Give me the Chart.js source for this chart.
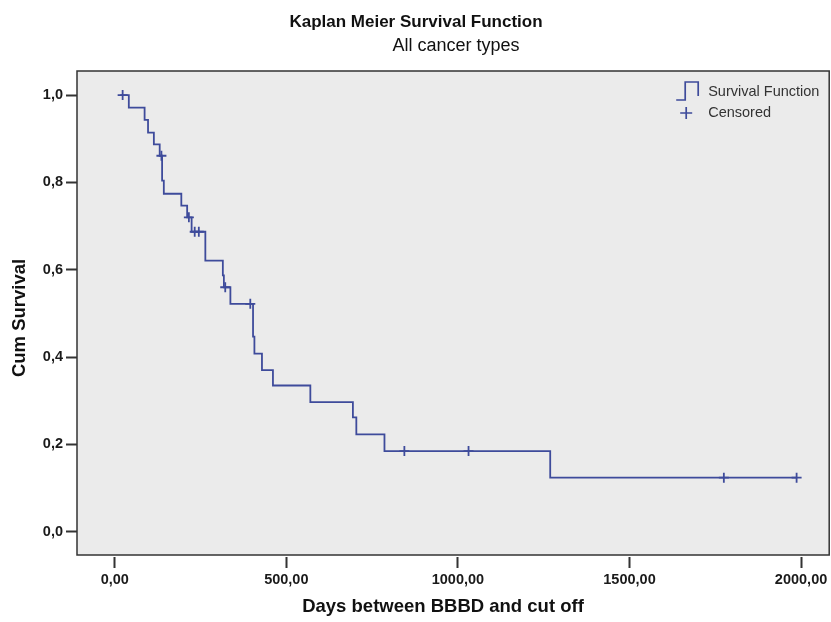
<!DOCTYPE html>
<html>
<head>
<meta charset="utf-8">
<script src="https://cdn.jsdelivr.net/npm/chart.js@4/dist/chart.umd.min.js"></script>
<style>
  body { margin: 0; background: #fff; }
  #wrap { width: 831px; height: 622px; overflow: hidden; }
</style>
</head>
<body>
<div id="wrap"><canvas id="km" width="836" height="622"></canvas></div>
<script>
// survival curve: day of each drop and the value after it
const eventDays = [16, 41, 87, 97, 114, 131, 138, 143, 194, 211, 224, 264, 315, 318, 337, 403, 407, 429, 461, 570, 694, 704, 786, 1269, 1987];
const survival  = [1.0, 0.971, 0.943, 0.914, 0.887, 0.861, 0.804, 0.774, 0.747, 0.720, 0.687, 0.621, 0.587, 0.560, 0.522, 0.447, 0.408, 0.370, 0.335, 0.297, 0.262, 0.223, 0.185, 0.124, 0.124];
// censored cases
const censorDays = [23, 136, 216, 233, 245, 322, 395, 844, 1031, 1775, 1987];
const censorSurv = [1.0, 0.861, 0.720, 0.687, 0.687, 0.560, 0.522, 0.185, 0.185, 0.124, 0.124];

const xTicks = [0, 500, 1000, 1500, 2000];
const yTicks = [0, 0.2, 0.4, 0.6, 0.8, 1.0];

const chartTitle = 'Kaplan Meier Survival Function';
const chartSubtitle = 'All cancer types';
const xTitle = 'Days between BBBD and cut off';
const yTitle = 'Cum Survival';
const legendNames = ['Survival Function', 'Censored'];

const blue = '#3e4b9b';
const font = '"Liberation Sans", Arial, sans-serif';

const curve = eventDays.map((d, i) => ({x: d, y: survival[i]}));
const censored = censorDays.map((d, i) => ({x: d, y: censorSurv[i]}));

const fmtX = v => v.toFixed(2).replace('.', ',');

// background, frame, titles, x labels and legend
const decor = {
  id: 'decor',
  beforeDraw(chart) {
    const {ctx, chartArea: a} = chart;
    ctx.save();
    ctx.fillStyle = '#ebebeb';
    ctx.fillRect(a.left, a.top, a.right - a.left, a.bottom - a.top);
    ctx.restore();
  },
  afterDraw(chart) {
    const {ctx, chartArea: a} = chart;
    const xs = chart.scales.x;
    ctx.save();
    ctx.strokeStyle = '#333';
    ctx.lineWidth = 1.5;
    ctx.strokeRect(a.left, a.top, a.right - a.left, a.bottom - a.top);

    ctx.textAlign = 'center';
    ctx.textBaseline = 'middle';
    // x tick labels at the scale's own tick positions
    ctx.fillStyle = '#1a1a1a';
    ctx.font = 'bold 14.5px ' + font;
    xTicks.forEach(v => ctx.fillText(fmtX(v), xs.getPixelForValue(v), a.bottom + 25));

    ctx.fillStyle = '#111';
    ctx.font = 'bold 17px ' + font;
    ctx.fillText(chartTitle, 416, 22);
    ctx.font = '18px ' + font;
    ctx.fillText(chartSubtitle, 456, 46);

    ctx.font = 'bold 18.5px ' + font;
    ctx.fillText(xTitle, 443, 607);
    ctx.save();
    ctx.translate(20, 318);
    ctx.rotate(-Math.PI / 2);
    ctx.fillText(yTitle, 0, 0);
    ctx.restore();

    // legend, top right of the plot
    const lx = a.right - 153, ly = a.top;
    ctx.strokeStyle = blue;
    ctx.lineWidth = 1.7;
    ctx.beginPath();
    ctx.moveTo(lx, ly + 29);
    ctx.lineTo(lx + 9, ly + 29);
    ctx.lineTo(lx + 9, ly + 11);
    ctx.lineTo(lx + 22, ly + 11);
    ctx.lineTo(lx + 22, ly + 25);
    ctx.stroke();
    ctx.beginPath();
    ctx.moveTo(lx + 4, ly + 42);
    ctx.lineTo(lx + 16, ly + 42);
    ctx.moveTo(lx + 10, ly + 36);
    ctx.lineTo(lx + 10, ly + 48);
    ctx.stroke();

    ctx.fillStyle = '#333';
    ctx.textAlign = 'left';
    ctx.font = '14.5px ' + font;
    ctx.fillText(legendNames[0], lx + 32, ly + 21);
    ctx.fillText(legendNames[1], lx + 32, ly + 42);
    ctx.restore();
  }
};

new Chart(document.getElementById('km'), {
  type: 'line',
  data: {
    datasets: [
      {
        label: legendNames[0],
        data: curve,
        stepped: 'before',
        borderColor: blue,
        borderWidth: 1.8,
        pointRadius: 0,
        fill: false
      },
      {
        label: legendNames[1],
        data: censored,
        showLine: false,
        pointStyle: 'cross',
        pointRadius: 5,
        pointBorderWidth: 1.8,
        borderColor: blue,
        backgroundColor: blue
      }
    ]
  },
  options: {
    responsive: false,
    animation: false,
    layout: { padding: { top: 71, left: 0, right: 2, bottom: 0 } },
    plugins: { legend: { display: false }, tooltip: { enabled: false } },
    scales: {
      x: {
        type: 'linear',
        min: -110,
        max: 2082,
        afterBuildTicks: s => { s.ticks = xTicks.map(v => ({value: v})); },
        afterFit: s => { s.height = 67; },
        border: { display: false },
        grid: {
          drawOnChartArea: false,
          tickLength: 13,
          tickWidth: 2,
          tickColor: '#333',
          tickBorderDash: [0, 2, 11, 100]
        },
        ticks: { display: false }
      },
      y: {
        min: -0.053,
        max: 1.055,
        afterBuildTicks: s => { s.ticks = yTicks.map(v => ({value: v})); },
        afterFit: s => { s.width = 77; s.paddingTop = 0; s.paddingBottom = 0; },
        border: { display: false },
        grid: {
          drawOnChartArea: false,
          tickLength: 11,
          tickWidth: 2,
          tickColor: '#333'
        },
        ticks: {
          padding: 3,
          color: '#1a1a1a',
          font: { family: font, size: 14.5, weight: 'bold' },
          callback: v => v.toFixed(1).replace('.', ',')
        }
      }
    }
  },
  plugins: [decor]
});
</script>
</body>
</html>
